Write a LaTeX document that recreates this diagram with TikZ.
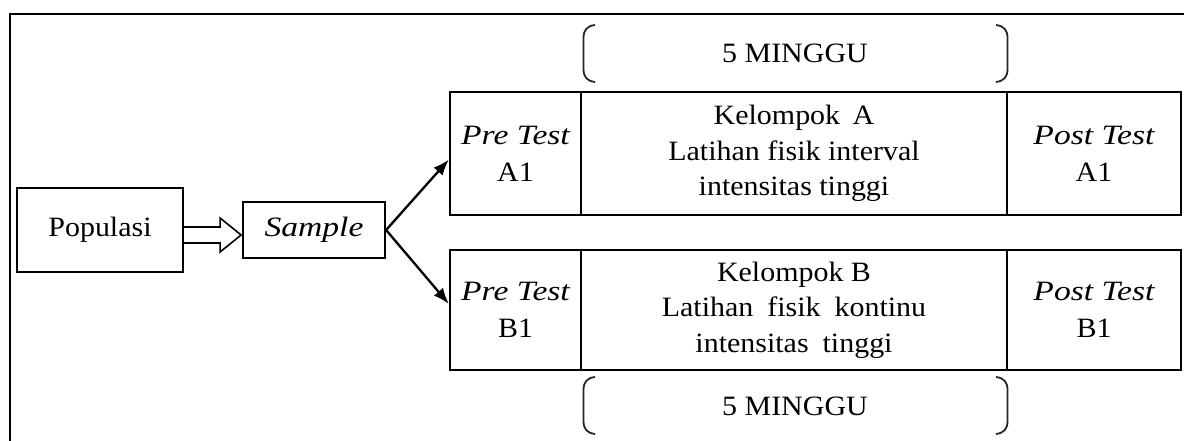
\documentclass[tikz,border=0pt]{standalone}
\usepackage{fontspec}
\setmainfont{Liberation Serif}[FakeStretch=1.07]
\newfontfamily\itf{Liberation Serif Italic}[FakeStretch=1.2]
\usetikzlibrary{calc,arrows.meta}
\begin{document}
\begin{tikzpicture}[x=1pt,y=-1pt,
  box/.style={draw,line width=2.2pt,inner sep=0pt,align=center,font=\fontsize{28}{37}\selectfont},
  kel/.style={box,font=\fontsize{28}{35.5}\selectfont},
  lbl/.style={inner sep=0pt,font=\fontsize{28}{34}\selectfont},
  brk/.style={line width=1.8pt,draw=black!85},
  conn/.style={line width=2.3pt,-{Latex[length=16pt,width=12pt]}}]
\useasboundingbox (0,0) rectangle (1184,441);
\draw[line width=2.4pt] (10,441) -- (10,14) -- (1184,14);
% left nodes
\node[box,minimum width=166pt,minimum height=84pt] (pop) at (100,230) {Populasi};
\node[box,minimum width=142pt,minimum height=56pt] (smp) at (314,230) {{\itf Sample}};
% group A
\node[box,minimum width=131pt,minimum height=123pt] (preA) at (515.5,153.5) {{\itf Pre Test}\\A1};
\node[kel,minimum width=426pt,minimum height=123pt] (kelA) at (794,153.5) {Kelompok\hspace{5pt} A\\Latihan fisik interval\\intensitas tinggi};
\node[box,minimum width=174pt,minimum height=123pt] (postA) at (1094,153.5) {{\itf Post Test}\\A1};
% group B
\node[box,minimum width=131pt,minimum height=120pt] (preB) at (515.5,310) {{\itf Pre Test}\\B1};
\node[kel,minimum width=426pt,minimum height=120pt] (kelB) at (794,310) {Kelompok B\\Latihan\enspace fisik\enspace kontinu\\intensitas\enspace tinggi};
\node[box,minimum width=174pt,minimum height=120pt] (postB) at (1094,310) {{\itf Post Test}\\B1};
% week labels
\node[lbl] (wA) at (795,53) {5 MINGGU};
\node[lbl] (wB) at (795,406) {5 MINGGU};
% brackets
\foreach \t/\b in {25/82, 377/434}{
  \draw[brk] (595,\t) .. controls (587,\t+1) and (583.5,\t+5) .. (583.5,\t+13) -- (583.5,\b-13) .. controls (583.5,\b-5) and (587,\b-1) .. (595,\b);
  \draw[brk] (996,\t) .. controls (1004,\t+1) and (1007.5,\t+5) .. (1007.5,\t+13) -- (1007.5,\b-13) .. controls (1007.5,\b-5) and (1004,\b-1) .. (996,\b);
}
% hollow arrow
\draw[line width=1.6pt,fill=white] ($(pop.east)+(0,-3)$) -- ++(36,0) -- ++(0,-9) -- ++(21,17) -- ++(-21,17) -- ++(0,-9) -- ($(pop.east)+(0,13)$);
% connectors
\draw[conn] (smp.east) -- ($(preA.west)+(0,6)$);
\draw[conn] (smp.east) -- ($(preB.west)+(0,-6)$);
\end{tikzpicture}
\end{document}
